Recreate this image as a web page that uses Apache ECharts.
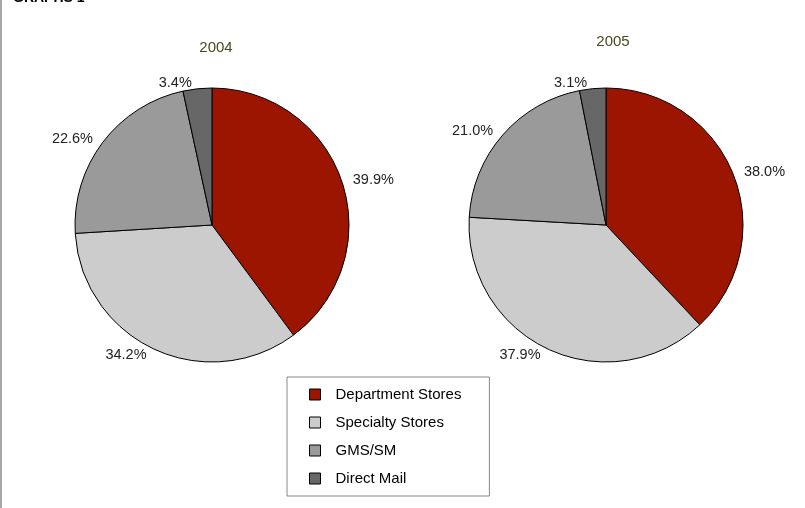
<!DOCTYPE html>
<html>
<head>
<meta charset="utf-8">
<script src="https://cdn.jsdelivr.net/npm/echarts@6/dist/echarts.min.js"></script>
<style>
html,body{margin:0;padding:0;background:#fff;}
#wrap{position:relative;width:805px;height:508px;}
#chart{width:805px;height:508px;}
#edge{position:absolute;left:0;top:0;width:2px;height:508px;background:#a8a8a8;}
</style>
</head>
<body>
<div id="wrap"><div id="chart"></div><div id="edge"></div></div>
<script>
const categories = ['Department Stores', 'Specialty Stores', 'GMS/SM', 'Direct Mail'];
const values2004 = [39.9, 34.2, 22.6, 3.4];
const values2005 = [38.0, 37.9, 21.0, 3.1];
const years = ['2004', '2005'];
const colors = ['#9b1500', '#cccccc', '#9a9a9a', '#676767'];

const chart = echarts.init(document.getElementById('chart'), null, {renderer: 'canvas'});
const FONT = 'Liberation Sans, Arial, sans-serif';

function pieSeries(vals, center) {
  return {
    type: 'pie',
    center: center,
    radius: 137,
    startAngle: 90,
    clockwise: true,
    avoidLabelOverlap: false,
    animation: false,
    itemStyle: {borderColor: '#000', borderWidth: 1},
    emphasis: {disabled: true},
    label: {
      show: true,
      position: 'outside',
      formatter: p => p.value.toFixed(1) + '%',
      fontFamily: FONT,
      fontSize: 14.5,
      color: '#222'
    },
    labelLine: {show: false, length: 6, length2: 0},
    data: categories.map((c, i) => ({name: c, value: vals[i], itemStyle: {color: colors[i]}}))
  };
}

chart.setOption({
  animation: false,
  color: colors,
  title: [
    {text: 'GRAPHS 1', left: 8, top: -14, textStyle: {fontSize: 14, fontWeight: 'bold', color: '#000', fontFamily: FONT}},
    {text: years[0], left: 211, top: 35, textAlign: 'center', textStyle: {fontSize: 15, fontWeight: 'normal', color: '#4a4a1e', fontFamily: FONT}},
    {text: years[1], left: 608, top: 29, textAlign: 'center', textStyle: {fontSize: 15, fontWeight: 'normal', color: '#4a4a1e', fontFamily: FONT}}
  ],
  legend: {
    data: categories,
    orient: 'vertical',
    left: 287,
    top: 377,
    borderColor: '#888',
    borderWidth: 1,
    padding: [10, 28, 10, 22],
    itemGap: 13,
    itemWidth: 11,
    itemHeight: 11,
    icon: 'rect',
    itemStyle: {borderColor: '#000', borderWidth: 1},
    textStyle: {fontSize: 15, color: '#000', fontFamily: FONT, padding: [0, 0, 0, 10]},
    selectedMode: false
  },
  series: [
    pieSeries(values2004, [212, 225]),
    pieSeries(values2005, [606, 225])
  ]
});
</script>
</body>
</html>
